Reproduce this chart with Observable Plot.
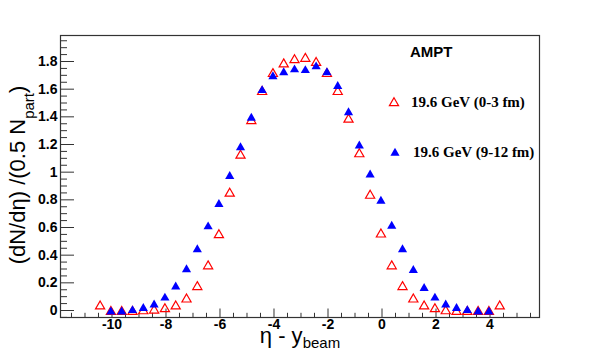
<!DOCTYPE html>
<html><head><meta charset="utf-8">
<script src="https://cdn.jsdelivr.net/npm/d3@7"></script>
<script src="https://cdn.jsdelivr.net/npm/@observablehq/plot@0.6"></script>
<style>
html,body{margin:0;padding:0;background:#fff;}
#chart{width:600px;height:353px;}
</style></head><body><div id="chart"></div>
<script>
// eta - y_beam values and (dN/deta)/(0.5 Npart)
const xCentral = [-10.44,-10.04,-9.64,-9.24,-8.84,-8.44,-8.04,-7.64,-7.24,-6.84,-6.44,-6.04,-5.64,-5.24,-4.84,-4.44,-4.04,-3.64,-3.24,-2.84,-2.44,-2.04,-1.64,-1.24,-0.84,-0.44,-0.04,0.36,0.76,1.16,1.56,1.96,2.36,2.76,3.16,3.56,3.96,4.36];
const yCentral = [0.04,0.0,0.0,0.0,0.005,0.01,0.02,0.04,0.09,0.18,0.33,0.555,0.855,1.13,1.38,1.59,1.72,1.79,1.82,1.83,1.80,1.72,1.59,1.39,1.14,0.84,0.56,0.33,0.18,0.09,0.04,0.02,0.005,0.0,0.0,0.0,0.0,0.04];
const xPeripheral = [-10.04,-9.64,-9.24,-8.84,-8.44,-8.04,-7.64,-7.24,-6.84,-6.44,-6.04,-5.64,-5.24,-4.84,-4.44,-4.04,-3.64,-3.24,-2.84,-2.44,-2.04,-1.64,-1.24,-0.84,-0.44,-0.04,0.36,0.76,1.16,1.56,1.96,2.36,2.76,3.16,3.56,3.96];
const yPeripheral = [0.0,0.0,0.01,0.025,0.05,0.10,0.18,0.305,0.45,0.615,0.777,0.98,1.187,1.40,1.60,1.70,1.73,1.75,1.745,1.772,1.73,1.63,1.44,1.20,0.99,0.80,0.62,0.45,0.30,0.17,0.10,0.05,0.025,0.01,0.0,0.0];

const xTickValues = [-10,-8,-6,-4,-2,0,2,4];
const xTickLabels = ["-10","-8","-6","-4","-2","0","2","4"];
const yTickValues = [0,0.2,0.4,0.6,0.8,1,1.2,1.4,1.6,1.8];
const yTickLabels = ["0","0.2","0.4","0.6","0.8","1","1.2","1.4","1.6","1.8"];
const seriesNames = ["19.6 GeV (0-3 fm)","19.6 GeV (9-12 fm)"];
const modelName = "AMPT";

const central = xCentral.map((x,i)=>({x, y:yCentral[i]}));
const peripheral = xPeripheral.map((x,i)=>({x, y:yPeripheral[i]}));

const W=600,H=353,mL=60,mR=61,mT=35,mB=36;
const xDom=[-11.907,5.833], yDom=[-0.0506,1.988];
const pxX=(W-mL-mR)/(xDom[1]-xDom[0]);
const pxY=(H-mT-mB)/(yDom[1]-yDom[0]);
const yMinor = d3.range(-1,40).map(k=>+(k*0.05).toFixed(2)).filter(v=>!yTickValues.some(t=>Math.abs(t-v)<1e-6));
const xMinor = d3.range(-23,12).map(k=>k*0.5).filter(v=>Math.abs(v%2)>1e-6);

const sans="'Liberation Sans', Arial, Helvetica, sans-serif";
const serif="'Liberation Serif', 'Times New Roman', serif";
const axisColor="#333";
const rTri=3.4;

const svg = Plot.plot({
  width:W, height:H, marginLeft:mL, marginRight:mR, marginTop:mT, marginBottom:mB,
  x:{domain:xDom, axis:null}, y:{domain:yDom, axis:null},
  style:{background:"white", fontFamily:sans, overflow:"visible"},
  marks:[
    Plot.ruleY(yTickValues,{y:d=>d, x1:xDom[0], x2:xDom[0]+14/pxX, stroke:axisColor}),
    Plot.ruleY(yMinor,{y:d=>d, x1:xDom[0], x2:xDom[0]+7/pxX, stroke:axisColor}),
    Plot.ruleX(xTickValues,{x:d=>d, y1:yDom[0], y2:yDom[0]+8.5/pxY, stroke:axisColor}),
    Plot.ruleX(xMinor,{x:d=>d, y1:yDom[0], y2:yDom[0]+4.2/pxY, stroke:axisColor}),
    Plot.frame({stroke:axisColor, strokeWidth:1.2}),
    Plot.text(yTickValues,{y:d=>d, text:(d,i)=>yTickLabels[i], frameAnchor:"left", textAnchor:"end", dx:-3, fontSize:14, fontWeight:"bold", fill:"#000"}),
    Plot.text(xTickValues,{x:d=>d, text:(d,i)=>xTickLabels[i], frameAnchor:"bottom", lineAnchor:"top", dy:2, fontSize:14, fontWeight:"bold", fill:"#000"}),
    Plot.dot(central,{x:"x", y:"y", symbol:"triangle", r:rTri, fill:"none", stroke:"#ff0000", strokeWidth:1.2, dy:1.3}),
    Plot.dot(peripheral,{x:"x", y:"y", symbol:"triangle", r:rTri, fill:"#0000ff", stroke:"none", dy:1.3})
  ]
});

const s = d3.select(svg);
// y-axis title
const yt = s.append("text").attr("transform","translate(25,175) rotate(-90)")
  .attr("text-anchor","middle").attr("font-family",sans).attr("font-size",22).attr("fill","#000");
yt.append("tspan").text("(dN/dη) /(0.5 N");
yt.append("tspan").attr("font-size",15).attr("dy",9).text("part");
yt.append("tspan").attr("dy",-9).text(")");
// x-axis title
const xt = s.append("text").attr("x",300).attr("y",343).attr("text-anchor","middle")
  .attr("font-family",sans).attr("font-size",22).attr("fill","#000");
xt.append("tspan").text("η - y");
xt.append("tspan").attr("font-size",15).attr("dy",5).text("beam");
// legend
const triSize = Math.PI*rTri*rTri;
s.append("text").attr("x",410).attr("y",56.5).attr("text-anchor","start").attr("font-family",sans).attr("font-weight","bold")
  .attr("font-size",15).attr("fill","#000").text(modelName);
s.append("path").attr("d",d3.symbol(d3.symbolTriangle,triSize)()).attr("transform","translate(394,103)")
  .attr("fill","none").attr("stroke","#ff0000").attr("stroke-width",1.2);
s.append("text").attr("x",411).attr("y",107).attr("text-anchor","start").attr("font-family",serif).attr("font-weight","bold")
  .attr("font-size",15).attr("fill","#000").text(seriesNames[0]);
s.append("path").attr("d",d3.symbol(d3.symbolTriangle,triSize)()).attr("transform","translate(395,153)")
  .attr("fill","#0000ff");
s.append("text").attr("x",413).attr("y",156.5).attr("text-anchor","start").attr("font-family",serif).attr("font-weight","bold")
  .attr("font-size",15).attr("fill","#000").text(seriesNames[1]);

document.getElementById("chart").appendChild(svg);
</script></body></html>
